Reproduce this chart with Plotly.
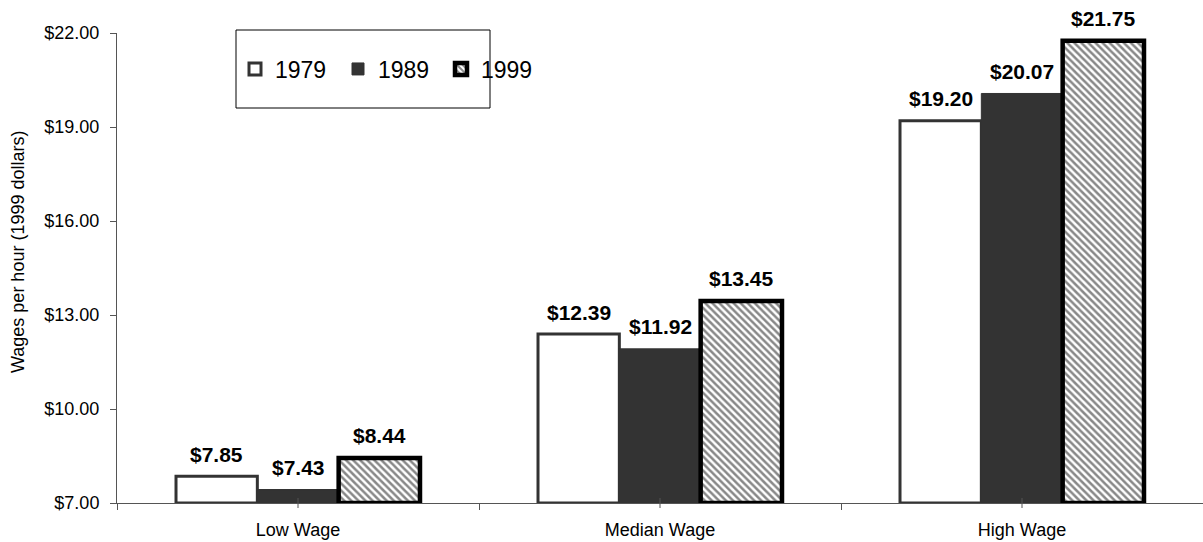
import plotly.graph_objects as go

# Hourly wage levels by wage group (1999 dollars)
categories = ["Low Wage", "Median Wage", "High Wage"]
years = ["1979", "1989", "1999"]
wages_1979 = [7.85, 12.39, 19.20]
wages_1989 = [7.43, 11.92, 20.07]
wages_1999 = [8.44, 13.45, 21.75]

y_ticks = [7, 10, 13, 16, 19, 22]
BASE = 7.0  # value axis starts at $7.00

FONT = "Liberation Sans, Arial, sans-serif"
W, H = 1203, 542
L, R, T, B = 117, 0, 33, 39
PW, PH = W - L - R, H - T - B
BARGAP = 0.326

x_pos = list(range(len(categories)))

styles = {
    "1979": dict(color="white", line=dict(color="#333333", width=3)),
    "1989": dict(color="#333333", line=dict(color="#333333", width=1)),
    "1999": dict(color="white", line=dict(color="black", width=4.5),
                 pattern=dict(shape="\\", fgcolor="#111111", bgcolor="white",
                              size=5, solidity=0.5)),
}

series = [wages_1979, wages_1989, wages_1999]
fig = go.Figure()
annotations = []
bar_w = (1 - BARGAP) / len(years)
for i, (yr, vals) in enumerate(zip(years, series)):
    fig.add_trace(go.Bar(
        x=x_pos,
        y=[v - BASE for v in vals],   # bar height above the axis floor
        base=BASE,
        name=yr,
        marker=styles[yr],
        hovertemplate="%{x}: $%{customdata:.2f}<extra>" + yr + "</extra>",
        customdata=vals,
    ))
    # value labels above each bar
    off = (i - (len(years) - 1) / 2) * bar_w
    for xc, v in zip(x_pos, vals):
        annotations.append(dict(
            x=xc + off, y=v, xref="x", yref="y", text=f"${v:.2f}",
            showarrow=False, yanchor="middle", xanchor="center", yshift=22,
            font=dict(family=FONT, size=21, color="black", weight="bold"),
        ))


def px_x(px):
    return (px - L) / PW


def px_y(py):
    return (H - B - py) / PH


# crossing tick marks at category centres
shapes = []
for xc in x_pos:
    shapes.append(dict(type="line", xref="x", yref="paper", x0=xc, x1=xc,
                       y0=-5 / PH, y1=5 / PH, line=dict(color="#555555", width=1),
                       layer="above"))
# legend frame
shapes.append(dict(type="rect", xref="paper", yref="paper",
                   x0=px_x(236), x1=px_x(490), y0=px_y(108), y1=px_y(30),
                   line=dict(color="black", width=1), fillcolor="rgba(0,0,0,0)"))

annotations.append(dict(text="Wages per hour (1999 dollars)", textangle=-90,
                        xref="paper", yref="paper", x=px_x(18), y=px_y(252),
                        xanchor="center", yanchor="middle",
                        showarrow=False, font=dict(family=FONT, size=18, color="black")))

fig.update_layout(
    width=W, height=H,
    margin=dict(l=L, r=R, t=T, b=B, pad=0),
    paper_bgcolor="white", plot_bgcolor="white",
    barmode="group", bargap=BARGAP, bargroupgap=0,
    font=dict(family=FONT, color="black"),
    showlegend=True,
    legend=dict(orientation="h", x=px_x(235), y=px_y(69), xanchor="left", yanchor="middle",
                font=dict(family=FONT, size=23, color="black"),
                bgcolor="rgba(0,0,0,0)", borderwidth=0,
                entrywidth=58, itemwidth=30, traceorder="normal"),
    shapes=shapes,
    annotations=annotations,
)

fig.update_xaxes(
    range=[-0.5, 2.5], tickmode="array", tickvals=x_pos, ticktext=categories,
    showgrid=False, zeroline=False, showline=True, linecolor="#555555", linewidth=1,
    ticks="", tickfont=dict(family=FONT, size=18, color="black"),
    ticklabelstandoff=10,
    minor=dict(tickmode="array", tickvals=[-0.5, 0.5, 1.5, 2.5], ticks="outside",
               ticklen=6, tickcolor="#555555", showgrid=False),
)
fig.update_yaxes(
    range=[7, 22], tickmode="array", tickvals=y_ticks,
    ticktext=[f"${v:.2f}" for v in y_ticks],
    showgrid=False, zeroline=False, showline=True, linecolor="#555555", linewidth=1,
    ticks="outside", ticklen=6, tickcolor="#555555",
    tickfont=dict(family=FONT, size=18, color="black"), ticklabelstandoff=7,
)

fig.write_html("out.html")
